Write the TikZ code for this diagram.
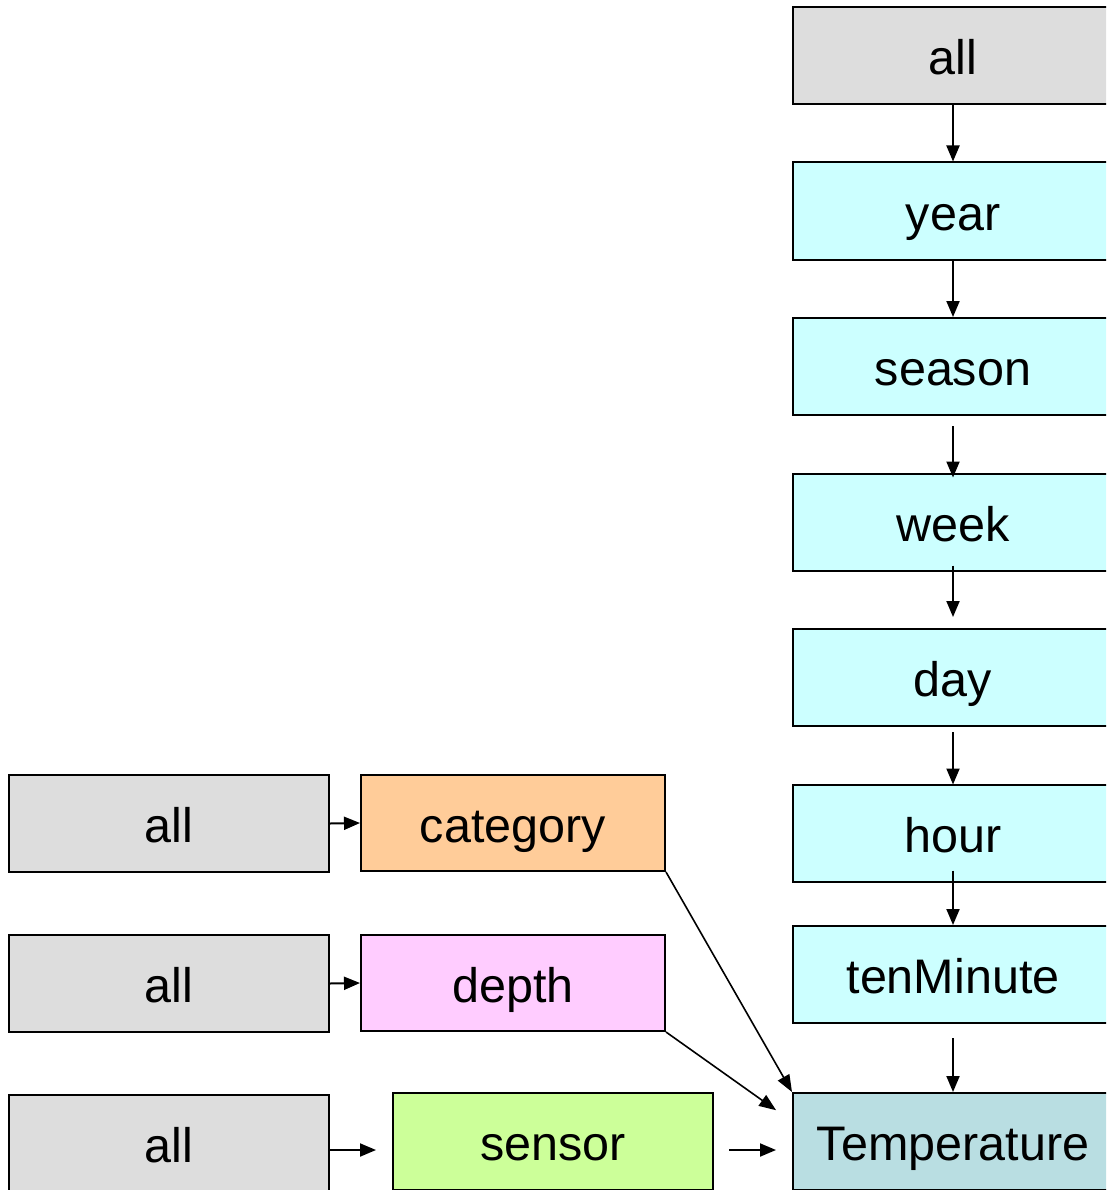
\documentclass[tikz,border=0pt]{standalone}
\usepackage{fontspec}
\setmainfont{Liberation Sans}
\usetikzlibrary{arrows.meta}
\definecolor{grayfill}{HTML}{DDDDDD}
\definecolor{cyanfill}{HTML}{CCFFFF}
\definecolor{catfill}{HTML}{FFCC99}
\definecolor{depthfill}{HTML}{FFCCFF}
\definecolor{sensorfill}{HTML}{CCFF99}
\definecolor{tempfill}{HTML}{B9DEE2}
\tikzset{
  box/.style={draw=black, line width=2pt, rectangle, inner sep=0pt,
    minimum width=320pt, minimum height=97pt,
    text height=45pt, text depth=7pt,
    font=\fontsize{48.5}{58}\selectfont},
  conn/.style={line width=2pt, -{Triangle[length=16pt,width=13pt]}},
  diag/.style={line width=1.6pt, -{Triangle[length=17pt,width=13pt]}}
}
\begin{document}
\begin{tikzpicture}[x=1pt,y=-1pt]
\useasboundingbox (0,0) rectangle (1106,1190);
\clip (0,0) rectangle (1106,1190);
% right column
\node[box, fill=grayfill] (rall) at (953,55.5) {all};
\node[box, fill=cyanfill] (year) at (953,211) {year};
\node[box, fill=cyanfill] (season) at (953,366.5) {season};
\node[box, fill=cyanfill] (week) at (953,522) {week};
\node[box, fill=cyanfill] (day) at (953,677.5) {day};
\node[box, fill=cyanfill] (hour) at (953,833) {hour};
\node[box, fill=cyanfill] (tenmin) at (953,974.5) {tenMinute};
\node[box, fill=tempfill] (temp) at (953,1141.5) {Temperature};
% left rows
\node[box, fill=grayfill] (alla) at (169,823.5) {all};
\node[box, fill=catfill, minimum width=304pt, minimum height=96pt] (cat) at (513,823) {category};
\node[box, fill=grayfill] (allb) at (169,983.5) {all};
\node[box, fill=depthfill, minimum width=304pt, minimum height=96pt] (depth) at (513,983) {depth};
\node[box, fill=grayfill] (allc) at (169,1143.5) {all};
\node[box, fill=sensorfill] (sensor) at (553,1141.5) {sensor};
% vertical chain
\draw[conn] (rall.south) -- (year.north);
\draw[conn] (year.south) -- (season.north);
\draw[conn, shorten <=10pt, shorten >=-5pt] (season.south) -- (week.north);
\draw[conn, shorten <=-6pt, shorten >=11pt] (week.south) -- (day.north);
\draw[conn, shorten <=5pt, shorten >=-1pt] (day.south) -- (hour.north);
\draw[conn, shorten <=-12pt] (hour.south) -- (tenmin.north);
\draw[conn, shorten <=14pt] (tenmin.south) -- (temp.north);
% horizontal
\draw[conn] (alla.east) -- (cat.west);
\draw[conn] (allb.east) -- (depth.west);
\draw[conn, shorten >=16pt] ([yshift=-6.5pt]allc.east) -- ([yshift=-8.5pt]sensor.west);
\draw[conn, shorten <=15pt, shorten >=16pt] ([yshift=-8.5pt]sensor.east) -- ([yshift=-8.5pt]temp.west);
% diagonals
\draw[diag] (cat.south east) -- (temp.north west);
\draw[diag, shorten >=19.5pt] (depth.south east) -- ([yshift=20pt]temp.west);
\end{tikzpicture}
\end{document}
